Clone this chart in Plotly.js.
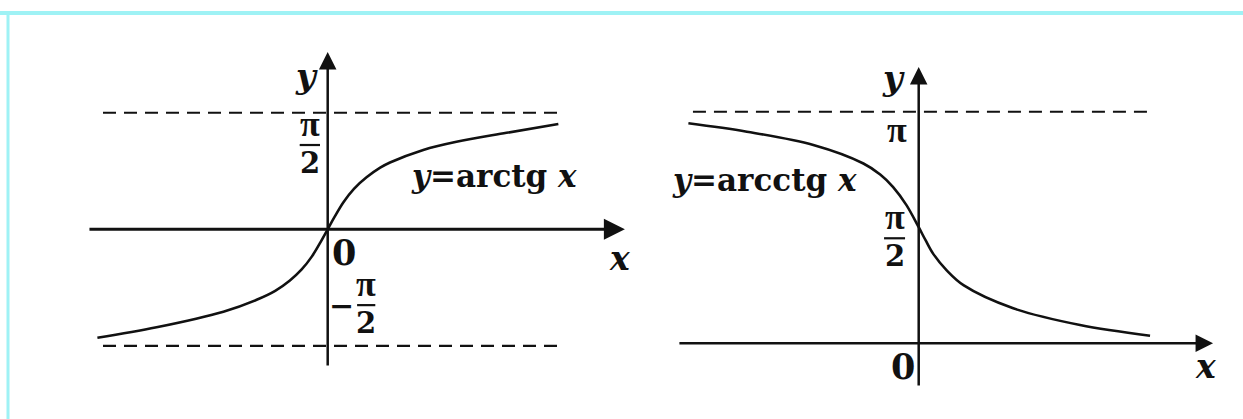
<!DOCTYPE html>
<html>
<head>
<meta charset="utf-8">
<script src="https://cdn.plot.ly/plotly-3.0.1.min.js"></script>
<style>
  html, body { margin: 0; padding: 0; background: #fff; }
  #chart { width: 1243px; height: 419px; }
</style>
</head>
<body>
<div id="chart"></div>
<script>
// points (x in units, y in radians)
const arctgX = [-6.58, -4.89, -2.98, -2.03, -1.5, -1.08, -0.75, -0.45, -0.2, 0, 0.2, 0.45, 0.75, 1.11, 1.5, 1.78, 2.73, 3.68, 5.11, 6.59];
const arctgY = [-1.461, -1.32, -1.11, -0.95, -0.83, -0.69, -0.545, -0.365, -0.17, 0, 0.17, 0.365, 0.545, 0.70, 0.83, 0.90, 1.07, 1.18, 1.30, 1.419];

const arcctgX = [-6.58, -4.91, -3.01, -1.58, -1.1, -0.73, -0.35, 0, 0.2, 0.42, 0.8, 1.29, 2.70, 4.61, 6.61];
const arcctgY = [2.985, 2.871, 2.691, 2.44, 2.29, 2.12, 1.875, 1.575, 1.395, 1.21, 0.99, 0.785, 0.475, 0.248, 0.103];

const HALF_PI = Math.PI / 2;
const asymptotesLeft = [HALF_PI, -HALF_PI];
const asymptotesRight = [Math.PI];

// page geometry (px)
const W = 1243, H = 419;
const split = 0.52;
const sx = 35;                       // px per x unit, both panels
const left = { ox: 327.7, oy: 229.3, sy: 74.2 };
const right = { ox: 918.7, oy: 343.3, sy: 73.7 };

const ink = '#111111';
const textFont = '"DejaVu Serif", serif';
const piFont = '"Liberation Serif", "Times New Roman", serif';

function xRange(p, x0, x1) { return [(x0 - p.ox) / sx, (x1 - p.ox) / sx]; }
function yRange(p) { return [-(H - p.oy) / p.sy, p.oy / p.sy]; }

const data = [
    {
        x: arctgX, y: arctgY, xaxis: 'x', yaxis: 'y',
        mode: 'lines', line: { color: ink, width: 2.6, shape: 'spline', smoothing: 1 },
        hoverinfo: 'skip'
    },
    {
        x: arcctgX, y: arcctgY, xaxis: 'x2', yaxis: 'y2',
        mode: 'lines', line: { color: ink, width: 2.6, shape: 'spline', smoothing: 1 },
        hoverinfo: 'skip'
    }
];

const hidden = { visible: false, showgrid: false, zeroline: false, fixedrange: true };

const shapes = [];
// frame
shapes.push({ type: 'line', xref: 'paper', yref: 'paper', x0: 0, x1: 1, y0: 1 - 13 / H, y1: 1 - 13 / H,
    line: { color: '#9ff2f5', width: 4 } });
shapes.push({ type: 'line', xref: 'paper', yref: 'paper', x0: 8 / W, x1: 8 / W, y0: 0, y1: 1 - 11 / H,
    line: { color: '#9ff2f5', width: 3 } });

// asymptotes
asymptotesLeft.forEach(v => shapes.push({
    type: 'line', xref: 'x', yref: 'y', x0: -6.42, x1: 6.64, y0: v, y1: v,
    line: { color: ink, width: 2.2, dash: '13px,8px' }
}));
asymptotesRight.forEach(v => shapes.push({
    type: 'line', xref: 'x2', yref: 'y2', x0: -6.45, x1: 6.55, y0: v, y1: v,
    line: { color: ink, width: 2.2, dash: '13px,8px' }
}));

function label(xr, yr, x, y, text, size, family, yanchor) {
    return { xref: xr, yref: yr, x: x, y: y, text: text, showarrow: false,
        xanchor: 'center', yanchor: yanchor || 'middle', borderpad: 0,
        font: { family: family || textFont, size: size, color: ink, weight: 'bold' } };
}

// pi over 2: pi sits on the bar, 2 hangs under it
const annotations = [];
function piHalf(xr, yr, xc, y, halfw) {
    shapes.push({ type: 'line', xref: xr, yref: yr, x0: xc - halfw, x1: xc + halfw, y0: y, y1: y,
        line: { color: ink, width: 2.2 } });
    annotations.push(label(xr, yr, xc, y, 'π', 36, piFont, 'bottom'));
    annotations.push(label(xr, yr, xc, y, '2', 29, textFont, 'top'));
}

// axes as arrows
function arrow(xr, yr, x, y, ax, ay, w) {
    return { xref: xr, yref: yr, axref: xr, ayref: yr, x: x, y: y, ax: ax, ay: ay,
        text: '', showarrow: true, arrowhead: 2, arrowsize: 1.4, arrowwidth: w,
        arrowcolor: ink, standoff: 0, startstandoff: 0 };
}

annotations.push(
    arrow('x', 'y', 8.49, 0, -6.85, 0, 3),
    arrow('x', 'y', 0, 2.39, 0, -1.856, 2.5),
    arrow('x2', 'y2', 8.41, 0, -6.88, 0, 2.5),
    arrow('x2', 'y2', 0, 3.749, 0, -0.593, 2.5),

    label('x', 'y', -0.62, 2.06, '<i>y</i>', 34),
    label('x', 'y', 0.47, -0.31, '0', 35),
    label('x', 'y', 0.38, -1.03, '−', 30),
    label('x', 'y', 8.33, -0.39, '<i>x</i>', 33),
    label('x', 'y', 4.75, 0.72, '<i>y</i>=arctg <i>x</i>', 31),

    label('x2', 'y2', -0.73, 3.60, '<i>y</i>', 34),
    label('x2', 'y2', -0.62, 2.90, 'π', 36, piFont),
    label('x2', 'y2', -0.45, -0.32, '0', 35),
    label('x2', 'y2', 8.18, -0.32, '<i>x</i>', 33),
    label('x2', 'y2', -4.42, 2.22, '<i>y</i>=arcctg <i>x</i>', 31)
);
piHalf('x', 'y', -0.51, 1.136, 0.29);
piHalf('x', 'y', 1.1, -1.022, 0.26);
piHalf('x2', 'y2', -0.69, 1.425, 0.30);

const layout = {
    width: W, height: H,
    margin: { l: 0, r: 0, t: 0, b: 0 },
    paper_bgcolor: '#ffffff', plot_bgcolor: 'rgba(0,0,0,0)',
    showlegend: false,
    xaxis: Object.assign({}, hidden, { domain: [0, split], range: xRange(left, 0, split * W), anchor: 'y' }),
    yaxis: Object.assign({}, hidden, { domain: [0, 1], range: yRange(left), anchor: 'x' }),
    xaxis2: Object.assign({}, hidden, { domain: [split, 1], range: xRange(right, split * W, W), anchor: 'y2' }),
    yaxis2: Object.assign({}, hidden, { domain: [0, 1], range: yRange(right), anchor: 'x2' }),
    shapes: shapes,
    annotations: annotations
};

Plotly.newPlot('chart', data, layout, { staticPlot: true, displayModeBar: false });
</script>
</body>
</html>
